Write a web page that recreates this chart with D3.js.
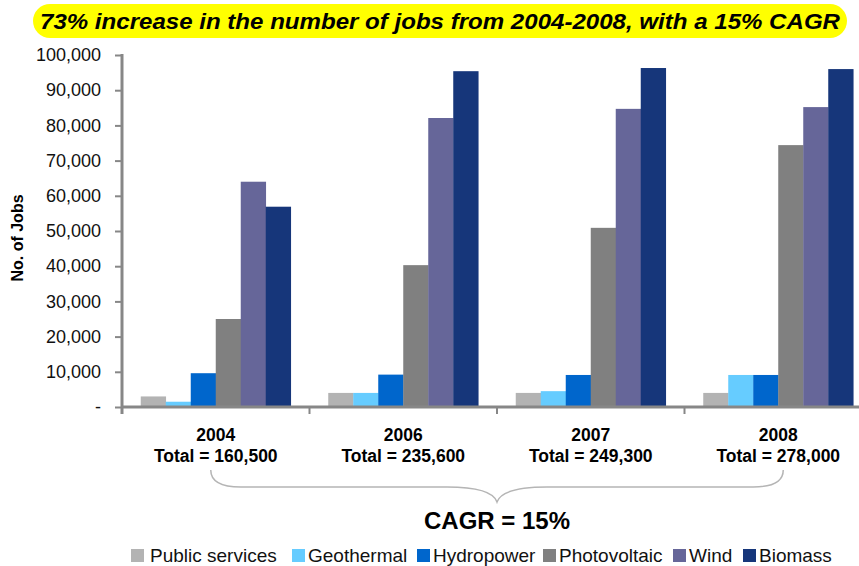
<!DOCTYPE html>
<html>
<head>
<meta charset="utf-8">
<script src="https://cdn.jsdelivr.net/npm/d3@7"></script>
<style>
  body { margin: 0; background: #fff; }
  svg text { font-family: "Liberation Sans", Arial, sans-serif; }
</style>
</head>
<body>
<svg id="chart" width="859" height="566"></svg>
<script>
// data
const years = ["2004", "2006", "2007", "2008"];
const totals = ["160,500", "235,600", "249,300", "278,000"];
const seriesNames = ["Public services", "Geothermal", "Hydropower", "Photovoltaic", "Wind", "Biomass"];
const seriesColors = ["#b3b3b3", "#66ccff", "#0066cc", "#808080", "#666699", "#16367a"];
const publicServices = [3000, 4000, 4000, 4000];
const geothermal = [1500, 4000, 4500, 9100];
const hydropower = [9600, 9200, 9100, 9100];
const photovoltaic = [25000, 40300, 50900, 74400];
const wind = [64000, 82100, 84700, 85200];
const biomass = [56900, 95400, 96300, 96000];
const yTicks = [0, 10000, 20000, 30000, 40000, 50000, 60000, 70000, 80000, 90000, 100000];

const seriesValues = [publicServices, geothermal, hydropower, photovoltaic, wind, biomass];

const config = {
  left: 122, right: 872, top: 55, bottom: 407,
  axisColor: "#878787"
};

const svg = d3.select("#chart");

// title pill
svg.append("rect")
  .attr("x", 33).attr("y", 4)
  .attr("width", 814).attr("height", 34)
  .attr("rx", 17).attr("ry", 17)
  .attr("fill", "#ffff00");
svg.append("text")
  .attr("x", 440).attr("y", 29)
  .attr("text-anchor", "middle")
  .attr("textLength", 800)
  .attr("lengthAdjust", "spacingAndGlyphs")
  .style("font-size", "22px")
  .style("font-weight", "bold")
  .style("font-style", "italic")
  .text("73% increase in the number of jobs from 2004-2008, with a 15% CAGR");

// scales
const x0 = d3.scaleBand()
  .domain(years)
  .range([config.left, config.right])
  .paddingInner(0.2)
  .paddingOuter(0.1);

const x1 = d3.scaleBand()
  .domain(seriesNames)
  .range([0, x0.bandwidth()]);

const y = d3.scaleLinear()
  .domain([0, 100000])
  .range([config.bottom, config.top]);

// bars
const groups = svg.append("g").selectAll("g")
  .data(years)
  .join("g")
    .attr("transform", d => `translate(${x0(d)},0)`);

groups.selectAll("rect")
  .data((d, i) => seriesNames.map((s, k) => ({ s: s, k: k, v: seriesValues[k][i] })))
  .join("rect")
    .attr("x", d => x1(d.s))
    .attr("y", d => y(d.v))
    .attr("width", x1.bandwidth() + 0.3)
    .attr("height", d => y(0) - y(d.v))
    .attr("fill", d => seriesColors[d.k]);

// y axis
const yAxis = d3.axisLeft(y)
  .tickValues(yTicks)
  .tickSize(7)
  .tickPadding(14)
  .tickFormat(d => d === 0 ? "-" : d3.format(",")(d));

const yAxisG = svg.append("g")
  .attr("transform", `translate(${config.left},0)`)
  .call(yAxis);
yAxisG.select(".domain").remove();
yAxisG.append("line")
  .attr("x1", 0).attr("x2", 0)
  .attr("y1", config.top - 1).attr("y2", config.bottom + 7)
  .attr("stroke", config.axisColor).attr("stroke-width", 3);
yAxisG.selectAll(".tick line").attr("stroke", config.axisColor).attr("stroke-width", 2);
yAxisG.selectAll(".tick text")
  .style("font-size", "18px")
  .attr("fill", "#111");

// x axis
svg.append("line")
  .attr("x1", config.left).attr("x2", config.right)
  .attr("y1", config.bottom).attr("y2", config.bottom)
  .attr("stroke", config.axisColor).attr("stroke-width", 3);
const step = x0.step();
const boundaries = [0, 1, 2, 3, 4].map(i => config.left + i * step);
svg.append("g").selectAll("line")
  .data(boundaries)
  .join("line")
    .attr("x1", d => d).attr("x2", d => d)
    .attr("y1", config.bottom).attr("y2", config.bottom + 7)
    .attr("stroke", config.axisColor).attr("stroke-width", 2);

const labels = svg.append("g").selectAll("g")
  .data(years)
  .join("g")
    .attr("transform", d => `translate(${x0(d) + x0.bandwidth() / 2},0)`);
labels.append("text")
  .attr("y", 441)
  .attr("text-anchor", "middle")
  .style("font-size", "17.5px")
  .style("font-weight", "bold")
  .text(d => d);
labels.append("text")
  .attr("y", 462)
  .attr("text-anchor", "middle")
  .style("font-size", "17.5px")
  .style("font-weight", "bold")
  .text((d, i) => "Total = " + totals[i]);

// y title
svg.append("text")
  .attr("transform", "translate(23,238) rotate(-90)")
  .attr("text-anchor", "middle")
  .style("font-size", "16px")
  .style("font-weight", "bold")
  .text("No. of Jobs");

// brace under the totals
const bx0 = x0(years[0]) + x0.bandwidth() / 2 - 5;
const bx1 = x0(years[3]) + x0.bandwidth() / 2 + 5;
const bm = (bx0 + bx1) / 2;
const bracePath = d3.path();
bracePath.moveTo(bx0, 470);
bracePath.quadraticCurveTo(bx0, 487, bx0 + 30, 487);
bracePath.lineTo(bm - 50, 487);
bracePath.quadraticCurveTo(bm - 5, 487, bm, 502);
bracePath.quadraticCurveTo(bm + 5, 487, bm + 50, 487);
bracePath.lineTo(bx1 - 30, 487);
bracePath.quadraticCurveTo(bx1, 487, bx1, 470);
svg.append("path")
  .attr("d", bracePath.toString())
  .attr("fill", "none")
  .attr("stroke", "#b5b5b5")
  .attr("stroke-width", 1.5);

svg.append("text")
  .attr("x", bm).attr("y", 529)
  .attr("text-anchor", "middle")
  .style("font-size", "24px")
  .style("font-weight", "bold")
  .text("CAGR = 15%");

// legend
const legendX = [131, 292, 417, 543, 673, 743];
const legend = svg.append("g").selectAll("g")
  .data(seriesNames)
  .join("g")
    .attr("transform", (d, i) => `translate(${legendX[i]},0)`);
legend.append("rect")
  .attr("x", 0).attr("y", 549)
  .attr("width", 13).attr("height", 13)
  .attr("fill", (d, i) => seriesColors[i]);
legend.append("text")
  .attr("x", (d, i) => i === 0 ? 19 : 16)
  .attr("y", 562)
  .style("font-size", "19px")
  .attr("fill", "#111")
  .text(d => d);
</script>
</body>
</html>
